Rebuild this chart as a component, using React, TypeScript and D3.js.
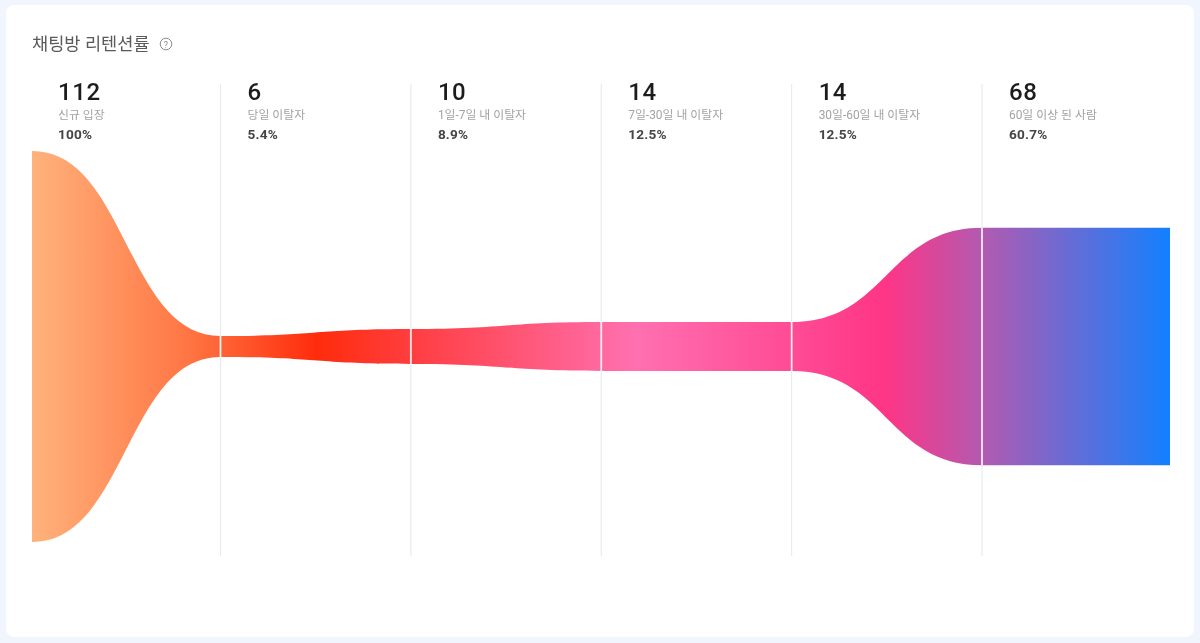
import React from 'react';
import * as d3 from 'd3';

// 단계별 값 (마지막 값은 오른쪽 끝까지 이어지는 구간)
const stageLabels = ['신규 입장', '당일 이탈자', '1일-7일 내 이탈자', '7일-30일 내 이탈자', '30일-60일 내 이탈자', '60일 이상 된 사람'];
const stageCounts = [112, 6, 10, 14, 14, 68];
const stagePercents = ['100%', '5.4%', '8.9%', '12.5%', '12.5%', '60.7%'];
const gradientStops = [
  { at: 0, color: '#ffb27c' },
  { at: 0.14, color: '#ff7442' },
  { at: 0.25, color: '#ff2c0c' },
  { at: 0.34, color: '#ff3f44' },
  { at: 0.53, color: '#ff70b0' },
  { at: 0.75, color: '#ff3585' },
  { at: 0.835, color: '#b25ab0' },
  { at: 1, color: '#1280ff' },
];

const WIDTH = 1200;
const HEIGHT = 643;
const CENTER_Y = 346.5;

const App: React.FC = () => {
  const bandValues = [...stageCounts, stageCounts[stageCounts.length - 1]];

  const x = d3.scaleLinear().domain([0, 1, 5, 6]).range([32, 220.5, 982, 1170]);
  const halfHeight = d3.scaleLinear().domain([0, 112]).range([0, 195.5]);

  const band = d3.area<number>()
    .x((_, i) => x(i))
    .y0(d => CENTER_Y + halfHeight(d))
    .y1(d => CENTER_Y - halfHeight(d))
    .curve(d3.curveBumpX);

  return (
    <svg
      width={WIDTH}
      height={HEIGHT}
      style={{ position: 'absolute', left: 0, top: 0, fontFamily: 'Roboto, "Noto Sans CJK KR", sans-serif' }}
    >
      <defs>
        <linearGradient id="bandGradient" gradientUnits="userSpaceOnUse" x1={32} x2={1170} y1={0} y2={0}>
          {gradientStops.map(s => (
            <stop key={s.at} offset={s.at} stopColor={s.color} />
          ))}
        </linearGradient>
        <filter id="soft" x="-5%" y="-20%" width="110%" height="140%">
          <feGaussianBlur stdDeviation="0.5" />
        </filter>
      </defs>

      <rect width={WIDTH} height={HEIGHT} fill="#f1f5fd" />
      <rect x={6} y={5} width={1188} height={632} rx={8} fill="#ffffff" />

      <g filter="url(#soft)">
        <text x={32} y={50} fontSize={17.6} fill="#5a5a5a">채팅방 리텐션률</text>
        <circle cx={166} cy={44} r={5.8} fill="none" stroke="#8d8d8d" strokeWidth={1} />
        <text x={166} y={47.5} fontSize={9} fill="#8d8d8d" textAnchor="middle">?</text>
      </g>

      <path d={band(bandValues) ?? ''} fill="url(#bandGradient)" />

      {stageCounts.slice(1).map((_, i) => (
        <g key={i}>
          <line x1={x(i + 1)} x2={x(i + 1)} y1={84} y2={556} stroke="#e9ebee" strokeWidth={1.2} />
          <line
            x1={x(i + 1)}
            x2={x(i + 1)}
            y1={CENTER_Y - halfHeight(stageCounts[i + 1])}
            y2={CENTER_Y + halfHeight(stageCounts[i + 1])}
            stroke="#ffffff"
            strokeOpacity={0.55}
            strokeWidth={2}
          />
        </g>
      ))}

      {stageCounts.map((count, i) => {
        const left = (i === 0 ? x(0) - 1 : x(i)) + 27;
        return (
          <g key={stageLabels[i]} filter="url(#soft)">
            <text x={left} y={100} fontSize={24} fontWeight={500} letterSpacing={0.6} fill="#1f1f1f">{count}</text>
            <text x={left} y={119} fontSize={11.9} fill="#a3a3a3">{stageLabels[i]}</text>
            <text x={left} y={139} fontSize={13.6} fontWeight={700} letterSpacing={0.2} fill="#454545">{stagePercents[i]}</text>
          </g>
        );
      })}
    </svg>
  );
};

export default App;
